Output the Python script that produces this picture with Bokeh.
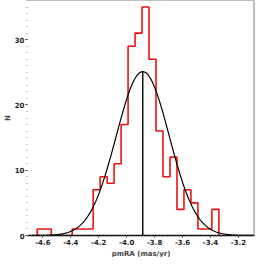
import numpy as np
from bokeh.plotting import figure
from bokeh.models import Range1d, Span, FixedTicker, PrintfTickFormatter, Title
from bokeh.embed import file_html
from bokeh.resources import INLINE

# histogram bins (left edges, width 0.05) and counts
bin_start = -4.64
bin_width = 0.05
counts = [1, 1, 0, 0, 0, 1, 1, 1, 7, 9, 8, 11, 17, 29, 31, 35, 27, 16, 9, 12, 4, 7, 5, 1, 1, 4]

# gaussian fit parameters
g_mu = -3.885
g_sigma = 0.19
g_amp = 25.1

x_ticks = [-4.6, -4.4, -4.2, -4.0, -3.8, -3.6, -3.4, -3.2]
y_ticks = [0, 10, 20, 30]
x_label = "pmRA (mas/yr)"
y_label = "N"

edges = bin_start + bin_width * np.arange(len(counts) + 1)
hx = [edges[0]]
hy = [0]
for i, c in enumerate(counts):
    hx += [edges[i], edges[i + 1]]
    hy += [c, c]
hx.append(edges[-1])
hy.append(0)

p = figure(width=257, height=257, output_backend="svg", toolbar_location=None,
           x_range=Range1d(-4.71, -3.085), y_range=Range1d(0, 36),
           min_border_top=0, min_border_right=3, min_border_left=0, min_border_bottom=0)
p.outline_line_color = None
p.xgrid.visible = False
p.ygrid.visible = False
p.background_fill_color = "white"
p.border_fill_color = "white"

gx = np.linspace(-4.71, -3.085, 300)
gy = g_amp * np.exp(-0.5 * ((gx - g_mu) / g_sigma) ** 2)

p.line(hx, hy, color="#ee1111", line_width=1.6)
p.line(gx, gy, color="black", line_width=1.2)
p.segment(x0=[g_mu], y0=[0], x1=[g_mu], y1=[g_amp], color="black", line_width=1.4)

p.add_layout(Span(location=36, dimension="width", line_color="#808080", line_width=1.2))
p.add_layout(Span(location=-3.085, dimension="height", line_color="#808080", line_width=2))

for ax in (p.xaxis[0], p.yaxis[0]):
    ax.major_label_text_font = "DejaVu Sans"
    ax.major_label_text_font_style = "bold"
    ax.major_label_text_font_size = "7px"
    ax.major_label_text_color = "#222222"
    ax.axis_label_text_font = "DejaVu Sans"
    ax.axis_label_text_font_style = "bold"
    ax.axis_label_text_font_size = "7px"
    ax.axis_label_text_color = "#444444"
    ax.major_tick_in = 0
    ax.major_tick_out = 2
    ax.minor_tick_in = 0
    ax.minor_tick_out = 1
    ax.minor_tick_line_color = "#888888"
    ax.major_label_standoff = 1
    ax.axis_label_standoff = 0

p.xaxis[0].ticker = FixedTicker(ticks=x_ticks, minor_ticks=list(np.round(np.arange(-4.70, -3.08, 0.02), 3)))
p.xaxis[0].formatter = PrintfTickFormatter(format="%.1f")
p.yaxis[0].ticker = FixedTicker(ticks=y_ticks, minor_ticks=list(range(0, 37)))
p.yaxis[0].axis_label = y_label
p.xaxis[0].axis_line_color = "black"
p.xaxis[0].axis_line_width = 1.5
p.yaxis[0].axis_line_color = None

p.add_layout(Title(text=x_label, align="center", text_font="DejaVu Sans", text_font_style="bold",
                   text_font_size="7px", text_color="#444444", standoff=0, offset=0,
                   text_line_height=1.0), "below")

open("out.html", "w").write(file_html(p, INLINE))
